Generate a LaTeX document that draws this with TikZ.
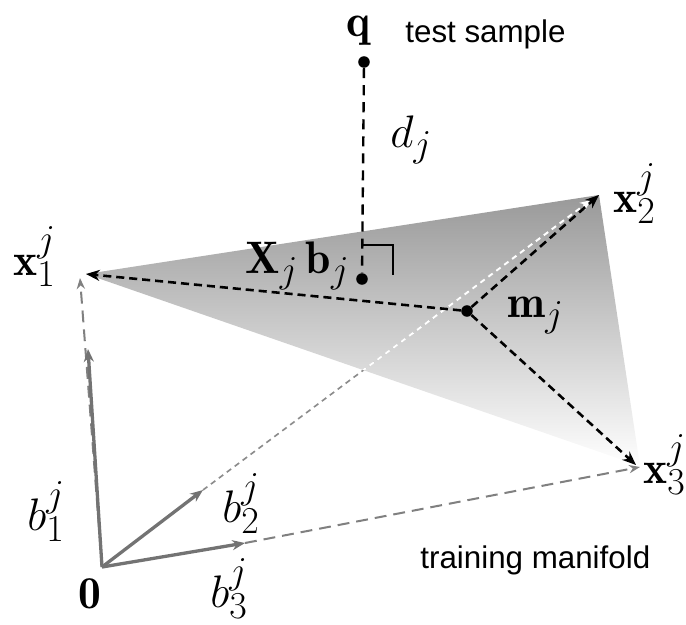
\documentclass[tikz,border=0pt]{standalone}
\usepackage{fontspec}
\newfontfamily\labelsans{Liberation Sans}
\usetikzlibrary{arrows.meta}
\begin{document}
\begin{tikzpicture}[x=0.5458pt,y=-0.5458pt,
  lab/.style={inner sep=0pt, font=\fontsize{24.88}{30}\selectfont},
  sanslab/.style={inner sep=0pt, font=\fontsize{17.1}{20}\selectfont\labelsans},
  dotnode/.style={circle, fill=black, inner sep=0pt, minimum size=6.3pt},
  blackarrow/.style={draw=black, line width=1.4pt, dash pattern=on 4.4pt off 2.7pt, -{Stealth[length=7.5pt,width=6pt]}},
  grayvec/.style={draw=black!55, line width=1.8pt, -{Stealth[length=7pt,width=5.5pt]}},
  graylong/.style={draw=black!50, line width=1.1pt, dash pattern=on 6.5pt off 3.8pt, -{Stealth[length=6pt,width=4.5pt]}},
  grayshort/.style={draw=black!45, line width=0.9pt, dash pattern=on 3pt off 2.4pt},
  qline/.style={draw=black, line width=1.3pt, dash pattern=on 5.5pt off 3.8pt}]
\useasboundingbox (0,0) rectangle (686,624);
% vertices
\coordinate (X1) at (86,274);
\coordinate (X2) at (599,195);
\coordinate (X3) at (640,466);
\coordinate (X1g) at (80,278);
\coordinate (X2w) at (591,200);
\coordinate (X3g) at (640,467);
% manifold
\shade[top color=black!40, bottom color=white] (X1) -- (X2) -- (X3) -- cycle;
% origin and basis vectors
\coordinate (O) at (102,567);
\coordinate (B1) at (88,349);
\coordinate (B2) at (203,490);
\coordinate (B3) at (245,543);
\draw[graylong] (O) -- (X1g);
\draw[graylong] (B3) -- (X3g);
\draw[grayshort, -{Stealth[length=5.5pt,width=4.5pt]}] (B2) -- (X2w);
\begin{scope}
  \clip (X1) -- (X2) -- (X3) -- cycle;
  \draw[grayshort, draw=white, line width=1.1pt, -{Stealth[length=6pt,width=5pt,open]}] (B2) -- (X2w);
\end{scope}
\draw[grayvec] (O) -- (B1);
\draw[grayvec] (O) -- (B2);
\draw[grayvec] (O) -- (B3);
% mean and arrows
\node[dotnode] (m) at (467,311) {};
\draw[blackarrow] (m) -- (X1);
\draw[blackarrow] (m) -- (X2);
\draw[blackarrow] (m) -- (636,465);
% query and projection
\node[dotnode] (q) at (364,62) {};
\node[dotnode] (p) at (362,279) {};
\draw[qline] (q) -- (p);
\draw[line width=1.3pt] ([shift={(0,-34)}]p.center) -- ([shift={(31,-34)}]p.center) -- ([shift={(31,-4)}]p.center);
% labels
\node[lab, anchor=base west] (lq) at (346,37) {$\mathbf{q}$};
\node[sanslab, anchor=base west] (lts) at (405,42) {test sample};
\node[lab, anchor=base west] (ld) at (390,147) {$d_j$};
\node[lab, anchor=base west] (lxb) at (245,273) {$\mathbf{X}_j\,\mathbf{b}_j$};
\node[lab, anchor=base west] (lm) at (507,317) {$\mathbf{m}_j$};
\node[lab, anchor=base west] (lx1) at (13,275) {$\mathbf{x}_1^j$};
\node[lab, anchor=base west] (lx2) at (613,212) {$\mathbf{x}_2^j$};
\node[lab, anchor=base west] (lx3) at (643,483) {$\mathbf{x}_3^j$};
\node[lab, anchor=base west] (lb1) at (27,530) {$b_1^j$};
\node[lab, anchor=base west] (lb2) at (222,522) {$b_2^j$};
\node[lab, anchor=base west] (lb3) at (210,607) {$b_3^j$};
\node[lab, anchor=base west] (l0) at (78,608) {$\mathbf{0}$};
\node[sanslab, anchor=base west] (ltm) at (420,568) {training manifold};
\end{tikzpicture}
\end{document}
